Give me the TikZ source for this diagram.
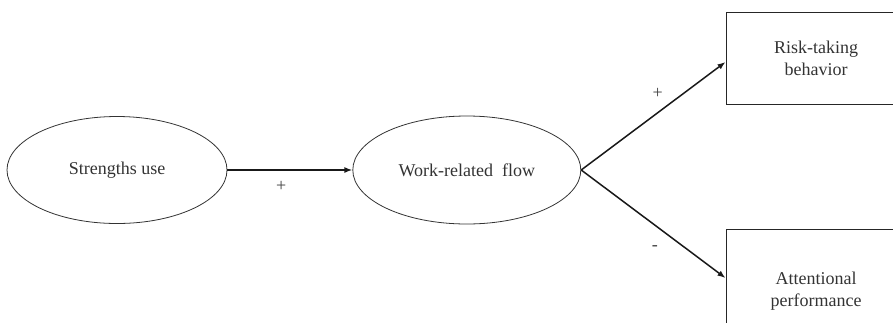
\documentclass[tikz,border=0pt]{standalone}
\usepackage{fontspec}
\setmainfont{Liberation Serif}
\usetikzlibrary{shapes.geometric, arrows.meta, positioning}

\begin{document}
\begin{tikzpicture}[x=1pt, y=-1pt,
        oval/.style = {draw=black!80, line width=0.8pt, ellipse, inner sep=0pt, text=black!80, font=\fontsize{18}{22}\selectfont},
        box/.style = {draw=black!85, line width=1pt, inner sep=0pt, minimum width=180pt, align=center, text=black!80, font=\fontsize{18}{22}\selectfont},
        arrow/.style = {-{Latex[length=8pt,width=6pt]}, line width=1.5pt, black!90},
        sign/.style = {text=black!75, font=\fontsize{18}{22}\selectfont}
    ]
    \useasboundingbox (0,0) rectangle (893,322);
    \clip (0,0) rectangle (893,322);

    % Nodes
    \node (strengths) [oval, minimum width=220pt, minimum height=107pt] at (117,170) {Strengths use};
    \node (flow) [oval, minimum width=228pt, minimum height=108pt, right=125pt of strengths] {Work-related\ \ flow};
    \node (risk) [box, minimum height=92pt] at (816,58) {Risk-taking \\ behavior};
    \node (attention) [box, minimum height=124pt] at (816,291) {Attentional \\ performance};

    % Arrows
    \draw[arrow] (strengths.east) -- (flow.west) node[sign, pos=0.43, yshift=-16pt] {+};
    \draw[arrow] (flow.east) -- ([yshift=-4pt]risk.west) node[sign, pos=0.53, yshift=19pt] {+};
    \draw[arrow] (flow.east) -- ([yshift=13pt]attention.west) node[sign, pos=0.51, yshift=-23pt] {-};

\end{tikzpicture}
\end{document}
